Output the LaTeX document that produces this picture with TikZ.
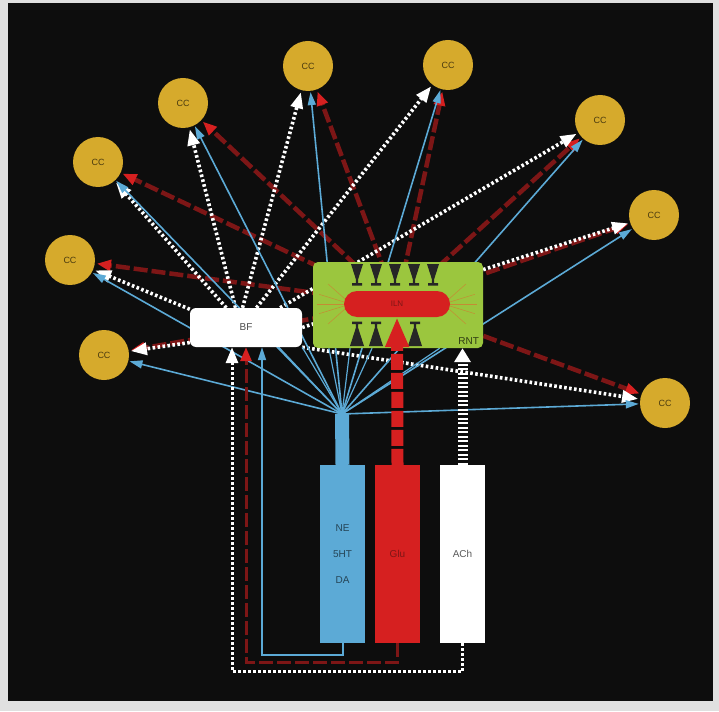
\documentclass[tikz,border=0pt]{standalone}
\usepackage{fontspec}
\setmainfont{Liberation Sans}
\usetikzlibrary{arrows.meta}

\definecolor{ccgold}{RGB}{214,170,44}
\definecolor{rntgreen}{RGB}{155,198,62}
\definecolor{ilnred}{RGB}{214,32,32}
\definecolor{monoblue}{RGB}{92,170,214}
\definecolor{darkred}{RGB}{125,22,22}
\definecolor{rayorange}{RGB}{196,140,52}

\pgfdeclarelayer{back}
\pgfdeclarelayer{lines}
\pgfsetlayers{back,lines,main}

\tikzset{
  cc/.style={circle,fill=ccgold,minimum size=50pt,inner sep=0pt,
    text=ccgold!35!black,font=\fontsize{9}{10}\selectfont},
  box/.style={inner sep=0pt,font=\fontsize{10}{12}\selectfont},
  column/.style={minimum width=45pt,minimum height=178pt,inner sep=0pt,
    align=center,font=\fontsize{10}{26}\selectfont},
  bluearr/.style={monoblue,line width=1.6pt,shorten >=1pt,
    -{Triangle[length=13pt,width=8pt]}},
  whitearr/.style={white,line width=3.6pt,dash pattern=on 2.6pt off 2.4pt,
    shorten >=2pt,-{Triangle[length=16pt,width=12pt]}},
  redarr/.style={darkred,line width=4.5pt,dash pattern=on 14pt off 4pt,
    shorten >=2pt,-{Triangle[length=14pt,width=11pt,color=ilnred]}},
  fanline/.style={monoblue,line width=1.2pt},
}

\begin{document}
\begin{tikzpicture}[x=1pt,y=-1pt]
% frame and black ground
\begin{pgfonlayer}{back}
\fill[black!12] (0,0) rectangle (719,711);
\fill[black!95] (8,3) rectangle (713,701);
\end{pgfonlayer}

% cortex
\node[cc] (cc1) at (104,355) {CC};
\node[cc] (cc2) at (70,260) {CC};
\node[cc] (cc3) at (98,162) {CC};
\node[cc] (cc4) at (183,103) {CC};
\node[cc] (cc5) at (308,66) {CC};
\node[cc] (cc6) at (448,65) {CC};
\node[cc] (cc7) at (600,120) {CC};
\node[cc] (cc8) at (654,215) {CC};
\node[cc] (cc9) at (665,403) {CC};

% basal forebrain and thalamus
\node[box,fill=white,rounded corners=6pt,minimum width=112pt,minimum height=39pt,
  text=black!70] (bf) at (246,327.5) {BF};
\node[box,fill=rntgreen,rounded corners=5pt,minimum width=170pt,minimum height=86pt]
  (rnt) at (398,305) {};
\node[box,anchor=south east,text=rntgreen!30!black,inner sep=4pt] (rntlabel)
  at (rnt.south east) {RNT};

% rays from ILN
\foreach \a/\dx/\dy in {150/-18/-16,168/-26/-8,180/-28/0,192/-26/8,210/-18/16}{
  \draw[rayorange,line width=0.5pt] (397,304) ++(-44,0) ++(\a:8pt) -- ++(\dx,\dy);
  \draw[rayorange,line width=0.5pt] (397,304) ++(44,0) ++(180-\a:8pt) -- ++(-\dx,\dy);
}
\node[box,fill=ilnred,rounded corners=13pt,minimum width=106pt,minimum height=26pt,
  text=darkred,font=\fontsize{8}{9}\selectfont] (iln) at (397,304) {ILN};

% synapses
\foreach \x in {357,376,395,414,433}
  \fill[black!85] (\x-6,264) -- (\x+6,264) -- (\x+1.2,279) -- (\x+1.2,283)
    -- (\x+5,283) -- (\x+5,285.5) -- (\x-5,285.5) -- (\x-5,283) -- (\x-1.2,283)
    -- (\x-1.2,279) -- cycle;
\foreach \x in {357,376,415}
  \fill[black!85] (\x-7,346) -- (\x+7,346) -- (\x+1.2,328) -- (\x+1.2,324)
    -- (\x+5,324) -- (\x+5,321.5) -- (\x-5,321.5) -- (\x-5,324) -- (\x-1.2,324)
    -- (\x-1.2,328) -- cycle;

% brainstem columns
\node[column,fill=monoblue,text=monoblue!40!black] (mono) at (342.5,554) {NE\\5HT\\DA};
\node[column,fill=ilnred,text=darkred] (glu) at (397.5,554) {Glu};
\node[column,fill=white,text=black!65] (ach) at (462.5,554) {ACh};
\coordinate (fan) at (342,414);

\begin{pgfonlayer}{lines}
% glutamate from ILN
\foreach \n in {1,...,9}
  \draw[redarr] (iln) -- (cc\n);
% acetylcholine from BF
\draw[whitearr] (bf.195) -- (cc1);
\draw[whitearr] (bf.162) -- (cc2);
\draw[whitearr] (bf.135) -- (cc3);
\draw[whitearr] (bf.118) -- (cc4);
\draw[whitearr] (bf.100) -- (cc5);
\draw[whitearr] (bf.62) -- (cc6);
\draw[whitearr] (bf.30) -- (cc7);
\draw[whitearr] (bf.east) -- (cc8);
\draw[whitearr] (bf.south east) -- (cc9);
% monoamines
\foreach \n in {1,...,9}
  \draw[bluearr] (fan) -- (cc\n);
\draw[fanline] (fan) -- (bf.329);
\draw[fanline] (fan) -- (bf.south east);
\draw[fanline] (fan) -- (rnt.212);
\draw[fanline] (fan) -- (rnt.222);
\draw[fanline] (fan) -- (rnt.239);
\draw[fanline] (fan) -- (rnt.314);
\draw[monoblue,line width=14pt] (mono.north) -- (fan);
% loops to BF
\draw[whitearr,line width=3pt,shorten >=0pt] (ach.south) -- ++(0,28) -| ([xshift=-14pt]bf.south);
\draw[redarr,line width=3pt,shorten >=0pt] (glu.south) -- ++(0,19) -| (bf.south);
\draw[bluearr,line width=2pt,shorten >=0pt] (mono.south) -- ++(0,12) -| ([xshift=16pt]bf.south);
\end{pgfonlayer}

% ascending inputs to RNT
\draw[ilnred,line width=12pt,dash pattern=on 16pt off 3pt,
  -{Triangle[length=30pt,width=22pt]}] (glu.north) -- (iln.south);
\draw[white,line width=10pt,dash pattern=on 2pt off 2.5pt,
  -{Triangle[length=14pt,width=16pt]}] (ach.north) -- (ach.north |- rnt.south);
\end{tikzpicture}
\end{document}
